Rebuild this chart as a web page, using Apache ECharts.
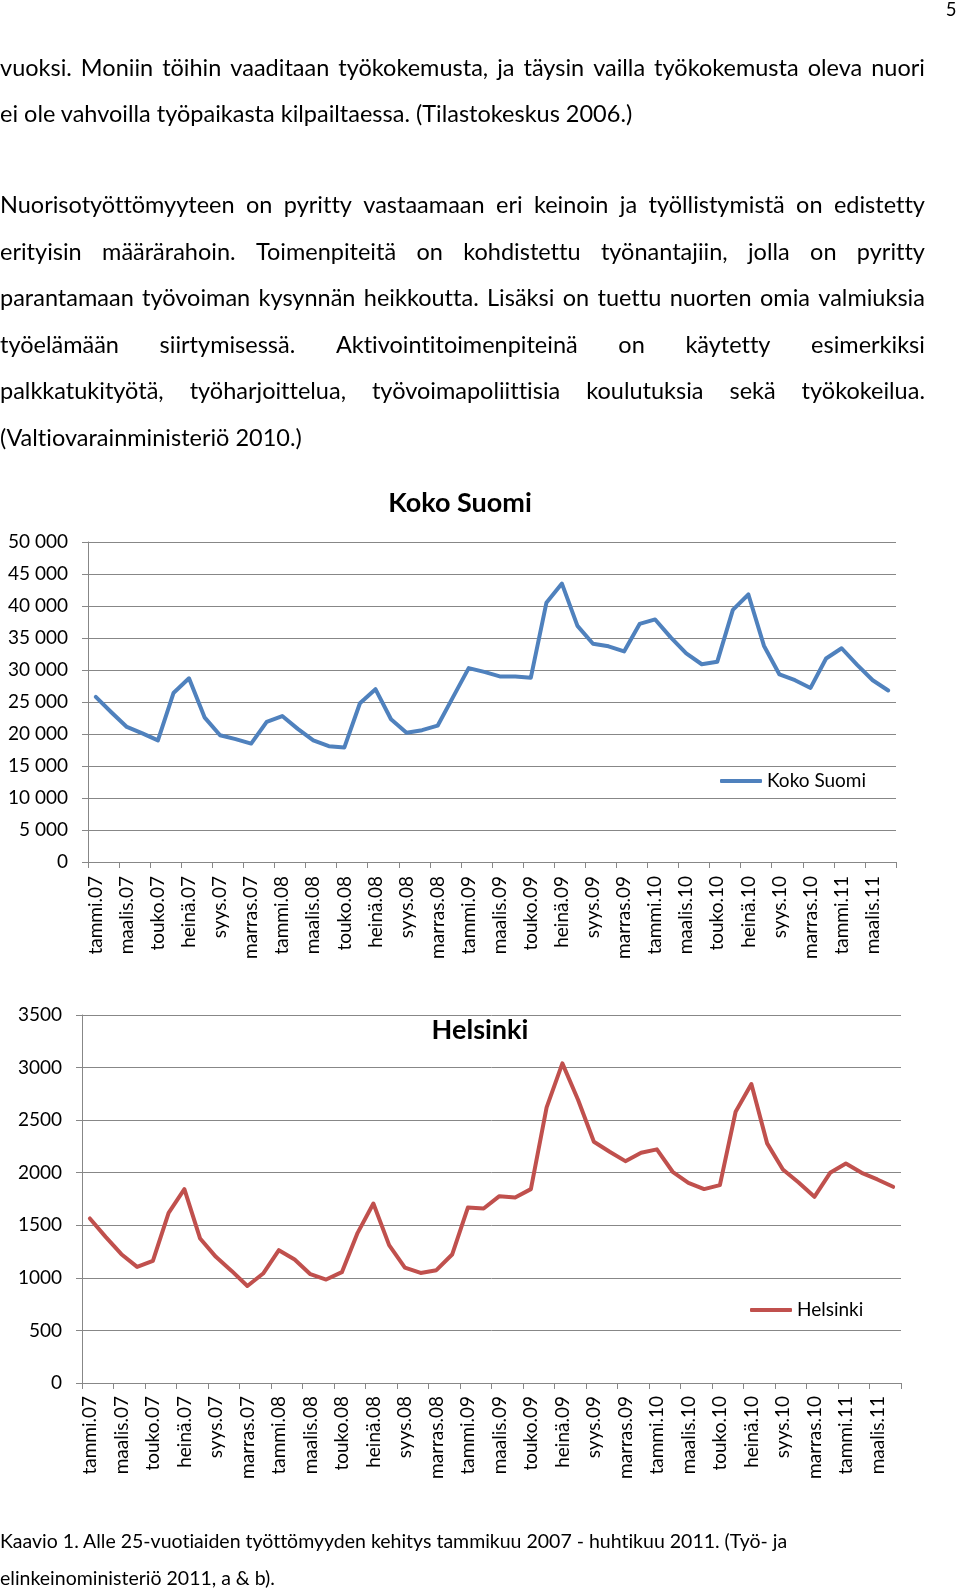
<!DOCTYPE html>
<html><head><meta charset="utf-8">
<script src="https://cdn.jsdelivr.net/npm/echarts@6/dist/echarts.min.js"></script>
<style>
html,body{margin:0;padding:0;background:#fff;}
#page{position:relative;width:960px;height:1592px;overflow:hidden;background:#fff;}
#chart{position:absolute;left:0;top:0;width:960px;height:1592px;}
.t{position:absolute;font-family:Lato,sans-serif;color:#000;white-space:nowrap;line-height:1.2;font-variant-ligatures:none;}
.j{display:flex;justify-content:space-between;}
</style></head><body>
<div id="page"><div id="chart"></div><div id="text"></div></div>
<script>
// ---- chart data ----
const categories = [
 'tammi.07','helmi.07','maalis.07','huhti.07','touko.07','kesä.07','heinä.07','elo.07','syys.07','loka.07','marras.07','joulu.07',
 'tammi.08','helmi.08','maalis.08','huhti.08','touko.08','kesä.08','heinä.08','elo.08','syys.08','loka.08','marras.08','joulu.08',
 'tammi.09','helmi.09','maalis.09','huhti.09','touko.09','kesä.09','heinä.09','elo.09','syys.09','loka.09','marras.09','joulu.09',
 'tammi.10','helmi.10','maalis.10','huhti.10','touko.10','kesä.10','heinä.10','elo.10','syys.10','loka.10','marras.10','joulu.10',
 'tammi.11','helmi.11','maalis.11','huhti.11'
];
const kokoSuomi = [25800,23400,21100,20100,19000,26400,28700,22600,19800,19200,18500,21900,
 22800,20800,19000,18100,17900,24800,27000,22300,20200,20600,21300,25800,
 30300,29700,29000,29000,28800,40500,43500,36900,34100,33700,32900,37200,
 37900,35100,32600,30900,31300,39400,41800,33800,29300,28400,27200,31800,
 33400,30800,28400,26800];
const helsinki = [1565,1390,1225,1104,1162,1618,1844,1374,1200,1066,923,1041,
 1263,1174,1035,984,1054,1428,1707,1311,1098,1047,1073,1222,
 1669,1660,1777,1765,1844,2621,3040,2691,2294,2199,2110,2190,
 2222,2009,1904,1844,1882,2580,2844,2279,2031,1907,1771,1999,
 2088,1999,1936,1866];
const seriesNames = ['Koko Suomi','Helsinki'];
const chartTitles = ['Koko Suomi','Helsinki'];

// ---- page text ----
const pageNumber = '5';
const para1 = [
 'vuoksi. Moniin töihin vaaditaan työkokemusta, ja täysin vailla työkokemusta oleva nuori',
 'ei ole vahvoilla työpaikasta kilpailtaessa. (Tilastokeskus 2006.)'
];
const para2 = [
 'Nuorisotyöttömyyteen on pyritty vastaamaan eri keinoin ja työllistymistä on edistetty',
 'erityisin määrärahoin. Toimenpiteitä on kohdistettu työnantajiin, jolla on pyritty',
 'parantamaan työvoiman kysynnän heikkoutta. Lisäksi on tuettu nuorten omia valmiuksia',
 'työelämään siirtymisessä. Aktivointitoimenpiteinä on käytetty esimerkiksi',
 'palkkatukityötä, työharjoittelua, työvoimapoliittisia koulutuksia sekä työkokeilua.',
 '(Valtiovarainministeriö 2010.)'
];
const caption = [
 'Kaavio 1. Alle 25-vuotiaiden työttömyyden kehitys tammikuu 2007 - huhtikuu 2011. (Työ- ja',
 'elinkeinoministeriö 2011, a & b).'
];

// ---- text layout ----
const ASC = 0.987;
const textRoot = document.getElementById('text');
function addLine(str, left, baseline, size, width, justify, right) {
  const d = document.createElement('div');
  d.className = 't' + (justify ? ' j' : '');
  d.style.fontSize = size + 'px';
  d.style.top = (baseline - ASC * size) + 'px';
  if (right !== undefined) { d.style.right = right + 'px'; }
  else { d.style.left = left + 'px'; }
  if (justify) {
    d.style.width = width + 'px';
    str.split(' ').forEach(w => { const s = document.createElement('span'); s.textContent = w; d.appendChild(s); });
  } else {
    d.textContent = str;
  }
  textRoot.appendChild(d);
  if (justify) {
    const sw = d.scrollWidth;
    if (sw > width) { d.style.transformOrigin = '0 0'; d.style.transform = 'scaleX(' + (width / sw) + ')'; d.style.width = sw + 'px'; }
  }
}
const BODY = 23.5, LW = 925;
addLine(pageNumber, 0, 16.5, 18.5, 0, false, 3.5);
addLine(para1[0], 0, 76, BODY, LW, true);
addLine(para1[1], 0, 122, BODY, LW, false);
para2.forEach((s, i) => addLine(s, 0, 213.5 + i * 46.5, BODY, LW, i < 5));
addLine(caption[0], 0, 1548, 19.5, 0, false);
addLine(caption[1], 0, 1585, 19.5, 0, false);

// ---- chart ----
const FONT = 'Lato';
const GRID_COLOR = '#878787';
function yAxisCfg(gridIndex, max, interval, fmt) {
  return {
    type: 'value', gridIndex, min: 0, max, interval,
    axisLine: { show: true, lineStyle: { color: GRID_COLOR, width: 1 } },
    axisTick: { show: true, length: 6, lineStyle: { color: GRID_COLOR, width: 1 } },
    splitLine: { show: true, lineStyle: { color: GRID_COLOR, width: 1 } },
    axisLabel: { margin: 20, color: '#000', fontFamily: FONT, fontSize: 19, formatter: fmt }
  };
}
function xAxisCfg(gridIndex, margin) {
  return {
    type: 'category', gridIndex, data: categories, boundaryGap: true,
    axisLine: { show: true, lineStyle: { color: GRID_COLOR, width: 1 } },
    axisTick: { show: true, interval: 1, length: 6, alignWithLabel: false, lineStyle: { color: GRID_COLOR, width: 1 } },
    splitLine: { show: false },
    axisLabel: { interval: 1, rotate: 90, margin, color: '#000', fontFamily: FONT, fontSize: 19 }
  };
}
const chart = echarts.init(document.getElementById('chart'), null, { renderer: 'canvas' });
chart.setOption({
  animation: false,
  backgroundColor: 'transparent',
  textStyle: { fontFamily: FONT },
  grid: [
    { left: 88, top: 542, width: 808, height: 320, outerBoundsMode: 'none', containLabel: false },
    { left: 82, top: 1015, width: 819, height: 368, outerBoundsMode: 'none', containLabel: false }
  ],
  title: [
    { text: chartTitles[0], left: 460, top: 490, textAlign: 'center', padding: 0,
      textStyle: { fontFamily: FONT, fontWeight: 'bold', fontSize: 27, color: '#000' } },
    { text: chartTitles[1], left: 480, top: 1017, textAlign: 'center', padding: 0,
      textStyle: { fontFamily: FONT, fontWeight: 'bold', fontSize: 27, color: '#000' } }
  ],
  legend: [
    { data: [seriesNames[0]], left: 720, top: 771, padding: 0, icon: 'roundRect', itemWidth: 42, itemHeight: 4,
      textStyle: { fontFamily: FONT, fontSize: 19, color: '#000', lineHeight: 20 } },
    { data: [seriesNames[1]], left: 750, top: 1300, padding: 0, icon: 'roundRect', itemWidth: 42, itemHeight: 4,
      textStyle: { fontFamily: FONT, fontSize: 19, color: '#000', lineHeight: 20 } }
  ],
  xAxis: [xAxisCfg(0, 14), xAxisCfg(1, 13)],
  yAxis: [
    yAxisCfg(0, 50000, 5000, v => v === 0 ? '0' : (v / 1000) + ' 000'),
    yAxisCfg(1, 3500, 500, v => String(v))
  ],
  series: [
    { name: seriesNames[0], type: 'line', xAxisIndex: 0, yAxisIndex: 0, data: kokoSuomi,
      symbol: 'none', color: '#4F81BD', lineStyle: { width: 4, color: '#4F81BD', cap: 'round', join: 'round' } },
    { name: seriesNames[1], type: 'line', xAxisIndex: 1, yAxisIndex: 1, data: helsinki,
      symbol: 'none', color: '#C0504D', lineStyle: { width: 4, color: '#C0504D', cap: 'round', join: 'round' } }
  ]
});
</script>
</body></html>
